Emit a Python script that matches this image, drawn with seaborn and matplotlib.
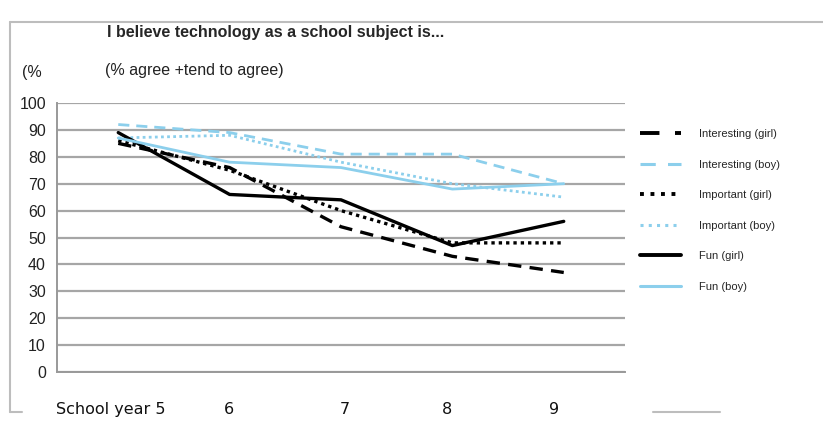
import numpy as np
import pandas as pd
import matplotlib
matplotlib.use("Agg")
import matplotlib.pyplot as plt
from matplotlib.lines import Line2D
import seaborn as sns

# data
years = ["School year 5", "6", "7", "8", "9"]
series_names = ["Interesting (girl)", "Interesting (boy)", "Important (girl)",
                "Important (boy)", "Fun (girl)", "Fun (boy)"]
interesting_girl = [85, 76, 54, 43, 37]
interesting_boy = [92, 89, 81, 81, 70]
important_girl = [86, 75, 60, 48, 48]
important_boy = [87, 88, 78, 70, 65]
fun_girl = [89, 66, 64, 47, 56]
fun_boy = [87, 78, 76, 68, 70]
y_ticks = list(range(0, 101, 10))

values = [interesting_girl, interesting_boy, important_girl,
          important_boy, fun_girl, fun_boy]
rows = []
for name, vals in zip(series_names, values):
    for i, v in enumerate(vals):
        rows.append({"series": name, "year": i, "value": v})
df = pd.DataFrame(rows)

black = "#000000"
blue = "#8ccfec"
palette = {
    "Interesting (girl)": black, "Interesting (boy)": blue,
    "Important (girl)": black, "Important (boy)": blue,
    "Fun (girl)": black, "Fun (boy)": blue,
}
dashes = {
    "Interesting (girl)": (4, 2.5), "Interesting (boy)": (4, 2.5),
    "Important (girl)": (1, 1.2), "Important (boy)": (1, 1.2),
    "Fun (girl)": "", "Fun (boy)": "",
}
widths = {n: (2.4 if palette[n] == black else 2.0) for n in series_names}

sns.set_style("white")
plt.rcParams["font.family"] = ["Liberation Sans", "DejaVu Sans"]

W, H = 823, 426
fig = plt.figure(figsize=(W / 100, H / 100), dpi=100)
ax = fig.add_axes([57 / W, (H - 372) / H, (625 - 57) / W, (372 - 103) / H])

for name in series_names:
    sub = df[df["series"] == name]
    sns.lineplot(data=sub, x="year", y="value", ax=ax, color=palette[name],
                 lw=widths[name], legend=False)
    ln = ax.lines[-1]
    if dashes[name]:
        ln.set_dashes(dashes[name])
    ln.set_zorder(3)

ax.set_xlim(-0.55, len(years) - 0.45)
ax.set_ylim(0, 100)
ax.set_yticks(y_ticks)
ax.set_yticklabels([str(t) for t in y_ticks], fontsize=11.5, color="#222222")
ax.yaxis.grid(True, color="#a6a6a6", lw=1.6)
ax.set_axisbelow(True)
ax.set_xticks([])
ax.set_xticks(np.arange(-0.5, len(years)), minor=True)
ax.tick_params(axis="x", which="minor", direction="out", length=5, color="#999999", width=1.2)
ax.tick_params(axis="y", direction="out", length=5, color="#999999", width=1.2, pad=3)
ax.set_xlabel("")
ax.set_ylabel("")
for s in ["top", "right"]:
    ax.spines[s].set_visible(False)
for s in ["left", "bottom"]:
    ax.spines[s].set_color("#999999")
    ax.spines[s].set_linewidth(1.4)

# category labels under the axis
label_x = {0: 0.42, 1: -0.01, 2: 0.03, 3: -0.05, 4: -0.09}
for i, lab in enumerate(years):
    ha = "right" if i == 0 else "center"
    ax.text(i + label_x[i], -14, lab, ha=ha, va="center", fontsize=11.5, color="#111111",
            transform=ax.transData, clip_on=False, family=["DejaVu Sans"])

# titles
fig.text(107 / W, 1 - 33 / H, "I believe technology as a school subject is...",
         fontsize=11.5, fontweight="bold", ha="left", va="center")
fig.text(105 / W, 1 - 70 / H, "(% agree +tend to agree)", fontsize=11.5,
         ha="left", va="center", color="#222222")
fig.text(22 / W, 1 - 72 / H, "(%", fontsize=11.5, ha="left", va="center", color="#222222")

# legend
handles = []
for name in series_names:
    h = Line2D([0], [0], color=palette[name], lw=2.8 if palette[name] == black else 2.2)
    if dashes[name]:
        h.set_dashes((5, 4) if dashes[name][0] > 2 else (1, 1.7))
    handles.append(h)
fig.legend(handles, series_names, loc="upper left", bbox_to_anchor=(630 / W, 1 - 119 / H),
           frameon=False, fontsize=8, handlelength=3.7, labelspacing=1.85,
           handletextpad=1.6)

# partial outer frame
frame_col = "#bdbdbd"
fig.add_artist(Line2D([10 / W, 1.0], [1 - 22 / H, 1 - 22 / H], color=frame_col, lw=1.5))
fig.add_artist(Line2D([10 / W, 10 / W], [1 - 22 / H, 1 - 412 / H], color=frame_col, lw=1.5))
fig.add_artist(Line2D([10 / W, 22 / W], [1 - 412 / H, 1 - 412 / H], color=frame_col, lw=1.5))
fig.add_artist(Line2D([653 / W, 720 / W], [1 - 412 / H, 1 - 412 / H], color=frame_col, lw=1.5))

fig.savefig("out.png", dpi=100, facecolor="white")
